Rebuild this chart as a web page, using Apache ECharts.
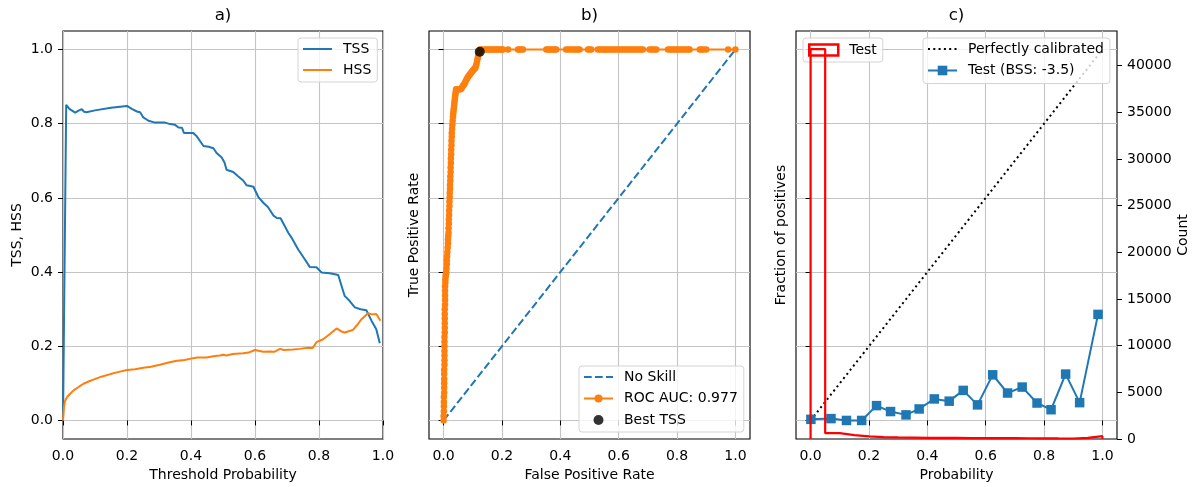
<!DOCTYPE html>
<html><head><meta charset="utf-8">
<script src="https://cdn.jsdelivr.net/npm/echarts@6/dist/echarts.min.js"></script>
<style>html,body{margin:0;padding:0;background:#fff}#c{width:1195px;height:487px}</style>
</head><body><div id="c"></div><script>
// ---------- Panel a: TSS / HSS vs threshold ----------
const tssX = [0.0,0.01,0.02,0.038,0.05,0.059,0.066,0.073,0.1,0.15,0.2,0.215,0.231,0.241,0.251,0.267,0.288,0.319,0.335,0.35,0.361,0.372,0.378,0.407,0.418,0.439,0.455,0.47,0.48,0.496,0.505,0.511,0.532,0.548,0.563,0.574,0.595,0.6,0.61,0.626,0.641,0.657,0.668,0.68,0.704,0.714,0.735,0.756,0.771,0.792,0.808,0.834,0.86,0.88,0.896,0.912,0.93,0.948,0.964,0.979,0.99];
const tssY = [0.0,0.851,0.840,0.830,0.836,0.839,0.832,0.831,0.836,0.843,0.848,0.840,0.833,0.831,0.817,0.808,0.803,0.803,0.799,0.797,0.790,0.789,0.775,0.775,0.766,0.740,0.738,0.734,0.721,0.709,0.695,0.676,0.670,0.658,0.647,0.634,0.630,0.627,0.603,0.587,0.575,0.553,0.546,0.545,0.506,0.493,0.461,0.434,0.414,0.413,0.399,0.397,0.392,0.336,0.322,0.305,0.300,0.297,0.269,0.246,0.208];
const hssX = [0.0,0.003,0.006,0.012,0.02,0.033,0.05,0.064,0.08,0.095,0.12,0.148,0.175,0.2,0.225,0.251,0.275,0.303,0.33,0.356,0.38,0.407,0.42,0.449,0.47,0.49,0.5,0.511,0.53,0.563,0.58,0.6,0.626,0.645,0.66,0.678,0.69,0.719,0.74,0.755,0.771,0.78,0.792,0.813,0.834,0.855,0.87,0.88,0.906,0.92,0.933,0.953,0.965,0.979,0.992];
const hssY = [0.0,0.035,0.052,0.062,0.070,0.081,0.091,0.099,0.105,0.110,0.118,0.125,0.131,0.136,0.138,0.142,0.145,0.150,0.156,0.161,0.163,0.168,0.170,0.170,0.173,0.175,0.177,0.175,0.179,0.181,0.183,0.190,0.185,0.186,0.185,0.193,0.190,0.191,0.193,0.195,0.196,0.195,0.211,0.219,0.233,0.248,0.240,0.237,0.244,0.258,0.273,0.289,0.286,0.287,0.269];

// ---------- Panel b: ROC ----------
const rocFpr = [0.000,0.000,0.001,0.001,0.001,0.001,0.002,0.002,0.002,0.002,0.002,0.002,0.003,0.003,0.003,0.003,0.003,0.003,0.003,0.004,0.004,0.004,0.004,0.004,0.004,0.005,0.005,0.005,0.005,0.005,0.006,0.006,0.007,0.008,0.009,0.010,0.011,0.011,0.012,0.013,0.014,0.015,0.015,0.016,0.017,0.017,0.018,0.018,0.019,0.019,0.020,0.020,0.021,0.021,0.022,0.022,0.023,0.023,0.024,0.024,0.025,0.025,0.026,0.026,0.027,0.027,0.028,0.028,0.029,0.030,0.031,0.032,0.033,0.034,0.035,0.036,0.037,0.038,0.039,0.040,0.041,0.042,0.043,
  0.046,0.050,0.055,0.058,0.061,0.064,0.067,0.070,0.073,0.076,0.079,0.082,0.085,0.088,0.091,0.094,0.097,0.100,0.103,0.106,0.109,0.111,0.113,0.115,0.117,0.119,0.121,0.123,0.126,
  0.130,0.140,0.146,0.152,0.158,0.164,0.170,0.176,0.182,0.188,0.194,0.200,0.203,0.221,0.255,0.260,0.266,0.272,0.352,0.358,0.364,0.370,0.376,0.382,0.386,0.420,0.428,0.436,0.444,0.452,0.460,0.466,0.495,0.500,0.506,0.529,0.536,0.543,0.550,0.557,0.564,0.571,0.578,0.585,0.592,0.599,0.606,0.613,0.620,0.627,0.634,0.641,0.648,0.655,0.662,0.669,0.676,0.683,0.706,0.713,0.720,0.729,0.769,0.776,0.783,0.790,0.797,0.804,0.811,0.818,0.825,0.832,0.839,0.843,0.878,0.884,0.890,0.900,0.975,1.000];
const rocTpr = [0.000,0.012,0.025,0.038,0.050,0.063,0.075,0.088,0.100,0.112,0.125,0.137,0.150,0.162,0.175,0.187,0.200,0.212,0.225,0.237,0.250,0.262,0.275,0.287,0.300,0.312,0.325,0.337,0.350,0.362,0.372,0.380,0.388,0.394,0.399,0.410,0.421,0.432,0.443,0.454,0.466,0.478,0.488,0.497,0.506,0.518,0.530,0.542,0.554,0.566,0.578,0.590,0.602,0.613,0.624,0.635,0.646,0.658,0.670,0.682,0.694,0.706,0.718,0.730,0.742,0.754,0.765,0.775,0.786,0.797,0.808,0.819,0.827,0.834,0.842,0.849,0.857,0.864,0.870,0.876,0.882,0.888,0.893,
  0.893,0.893,0.893,0.893,0.895,0.899,0.903,0.906,0.910,0.915,0.920,0.924,0.928,0.931,0.934,0.937,0.940,0.943,0.946,0.948,0.951,0.956,0.962,0.970,0.977,0.984,0.990,0.995,1.000,
  1,1,1,1,1,1,1,1,1,1,1,1,1,1,1,1,1,1,1,1,1,1,1,1,1,1,1,1,1,1,1,1,1,1,1,1,1,1,1,1,1,1,1,1,1,1,1,1,1,1,1,1,1,1,1,1,1,1,1,1,1,1,1,1,1,1,1,1,1,1,1,1,1,1,1,1,1,1,1,1,1,1,1,1];
const bestTss = [0.124, 0.994];
const noSkill = [[0, 0], [1, 1]];

// ---------- Panel c: calibration + histogram ----------
const calX = [0.001,0.070,0.123,0.175,0.226,0.274,0.327,0.372,0.424,0.475,0.523,0.572,0.624,0.675,0.725,0.776,0.824,0.874,0.922,0.985];
const calY = [0.003,0.005,0.000,0.000,0.040,0.024,0.015,0.031,0.058,0.052,0.081,0.042,0.123,0.074,0.090,0.047,0.029,0.125,0.048,0.286];
const perfect = [[0, 0], [1, 1]];
const histEdges = [0,0.05,0.1,0.15,0.2,0.25,0.3,0.35,0.4,0.45,0.5,0.55,0.6,0.65,0.7,0.75,0.8,0.85,0.9,0.95,1.0];
const histCounts = [41750,620,420,280,200,170,150,130,120,110,100,95,90,85,80,75,60,55,120,300];

// ---------- tick labels ----------
const probTicks = [0, 0.2, 0.4, 0.6, 0.8, 1.0];
const countTicks = [0,5000,10000,15000,20000,25000,30000,35000,40000];

const FONT = "'DejaVu Sans', sans-serif";
const zip = (a, b) => a.map((v, i) => [v, b[i]]);
const histPts = [[histEdges[0], 0]];
histCounts.forEach((c, i) => { histPts.push([histEdges[i], c]); histPts.push([histEdges[i + 1], c]); });
histPts.push([histEdges[histEdges.length - 1], 0]);

const gridLine = { show: true, lineStyle: { color: '#c4c4c4', width: 1.1 } };
function axis(o) {
  const a = {
    type: 'value',
    axisLine: { show: false },
    axisTick: { show: true, length: 5, lineStyle: { color: '#000', width: 1 }, customValues: o.ticks },
    axisLabel: { show: o.labels !== false, customValues: o.ticks, margin: 10, color: '#000', fontSize: 14, fontFamily: FONT,
                 formatter: o.fmt || (v => v.toFixed(1)) },
    splitLine: o.split === false ? { show: false } : gridLine,
    name: o.name, nameLocation: 'middle', nameGap: o.gap,
    nameTextStyle: { color: '#000', fontSize: 14, fontFamily: FONT },
    min: o.min, max: o.max
  };
  return Object.assign(a, o.extra || {});
}
const frame = { show: true, borderColor: '#000', borderWidth: 1.1, backgroundColor: 'transparent' };
const noMark = { color: 'rgba(0,0,0,0)', borderWidth: 0, opacity: 0 };
const legendBase = {
  orient: 'vertical', backgroundColor: 'rgba(255,255,255,0.8)', borderColor: '#d4d4d4', borderWidth: 1, borderRadius: 3,
  itemWidth: 29, itemHeight: 14, itemGap: 7, padding: [4, 6, 5, 4],
  textStyle: { color: '#000', fontSize: 14, fontFamily: FONT, padding: [0, 0, 0, 6] }
};

const option = {
  animation: false,
  backgroundColor: '#fff',
  textStyle: { fontFamily: FONT },
  grid: [
    Object.assign({ left: 63, top: 31, width: 320, height: 408 }, frame),
    Object.assign({ left: 429, top: 31, width: 321, height: 408 }, frame),
    Object.assign({ left: 796, top: 31, width: 321, height: 408 }, frame)
  ],
  xAxis: [
    axis({ ticks: probTicks, min: 0, max: 1, name: 'Threshold Probability', gap: 29, extra: { gridIndex: 0 } }),
    axis({ ticks: probTicks, min: -0.05, max: 1.05, name: 'False Positive Rate', gap: 29, extra: { gridIndex: 1 } }),
    axis({ ticks: probTicks, min: -0.05, max: 1.05, name: 'Probability', gap: 29, extra: { gridIndex: 2 } })
  ],
  yAxis: [
    axis({ ticks: probTicks, min: -0.05, max: 1.05, name: 'TSS, HSS', gap: 39, extra: { gridIndex: 0 } }),
    axis({ ticks: probTicks, min: -0.05, max: 1.05, labels: false, name: 'True Positive Rate', gap: 8, extra: { gridIndex: 1 } }),
    axis({ ticks: probTicks, min: -0.05, max: 1.05, labels: false, name: 'Fraction of positives', gap: 8, extra: { gridIndex: 2 } }),
    axis({ ticks: countTicks, min: 0, max: 43700, split: false, fmt: v => String(v), name: 'Count', gap: 59,
           extra: { gridIndex: 2, position: 'right' } })
  ],
  legend: [
    Object.assign({}, legendBase, { left: 298, top: 38,
      data: [{ name: 'TSS', itemStyle: noMark }, { name: 'HSS', itemStyle: noMark }] }),
    Object.assign({}, legendBase, { left: 579, top: 366, itemHeight: 10, itemGap: 7.5, padding: [4, 6, 5, 4],
      data: [{ name: 'No Skill', itemStyle: noMark }, 'ROC AUC: 0.977', 'Best TSS'] }),
    Object.assign({}, legendBase, { left: 803, top: 38, itemHeight: 11, padding: [5, 6, 5, 5],
      data: [{ name: 'Test', icon: 'rect', itemStyle: { color: 'rgba(0,0,0,0)', borderColor: '#ff0000', borderWidth: 2.5 } }] }),
    Object.assign({}, legendBase, { left: 923, top: 38, itemHeight: 12, itemGap: 7.5, padding: [4, 6, 6, 4],
      data: [{ name: 'Perfectly calibrated', itemStyle: noMark }, 'Test (BSS: -3.5)'] })
  ],
  graphic: [
    { type: 'text', x: 223, y: 16, style: { text: 'a)', fontSize: 16.7, fontFamily: FONT, fill: '#000', align: 'center', verticalAlign: 'middle' } },
    { type: 'text', x: 589.5, y: 16, style: { text: 'b)', fontSize: 16.7, fontFamily: FONT, fill: '#000', align: 'center', verticalAlign: 'middle' } },
    { type: 'text', x: 956.5, y: 16, style: { text: 'c)', fontSize: 16.7, fontFamily: FONT, fill: '#000', align: 'center', verticalAlign: 'middle' } }
  ],
  series: [
    { name: 'TSS', type: 'line', xAxisIndex: 0, yAxisIndex: 0, data: zip(tssX, tssY), symbol: 'none', color: '#1f77b4',
      lineStyle: { color: '#1f77b4', width: 2 } },
    { name: 'HSS', type: 'line', xAxisIndex: 0, yAxisIndex: 0, data: zip(hssX, hssY), symbol: 'none', color: '#ff7f0e',
      lineStyle: { color: '#ff7f0e', width: 2 } },
    { name: 'No Skill', type: 'line', xAxisIndex: 1, yAxisIndex: 1, data: noSkill, symbol: 'none', color: '#1f77b4',
      lineStyle: { color: '#1f77b4', width: 2, type: [7.7, 3.3] } },
    { name: 'ROC AUC: 0.977', type: 'line', xAxisIndex: 1, yAxisIndex: 1, data: zip(rocFpr, rocTpr), symbol: 'circle', symbolSize: 6.5,
      showAllSymbol: true, color: '#ff7f0e', itemStyle: { color: '#ff7f0e' }, lineStyle: { color: '#ff7f0e', width: 2 } },
    { name: 'Best TSS', type: 'scatter', xAxisIndex: 1, yAxisIndex: 1, data: [bestTss], symbol: 'circle', symbolSize: 10,
      color: '#000', itemStyle: { color: '#000' }, z: 5 },
    { name: 'Perfectly calibrated', type: 'line', xAxisIndex: 2, yAxisIndex: 2, data: perfect, symbol: 'none', color: '#000',
      lineStyle: { color: '#000', width: 2, type: [2, 3.3] } },
    { name: 'Test (BSS: -3.5)', type: 'line', xAxisIndex: 2, yAxisIndex: 2, data: zip(calX, calY), symbol: 'rect', symbolSize: 9.5,
      color: '#1f77b4', itemStyle: { color: '#1f77b4' }, lineStyle: { color: '#1f77b4', width: 2 } },
    { name: 'Test', type: 'line', xAxisIndex: 2, yAxisIndex: 3, data: histPts, symbol: 'none', color: '#ff0000',
      lineStyle: { color: '#ff0000', width: 2.2 }, z: 4 }
  ]
};
const chart = echarts.init(document.getElementById('c'), null, { renderer: 'canvas' });
chart.setOption(option);
</script></body></html>
